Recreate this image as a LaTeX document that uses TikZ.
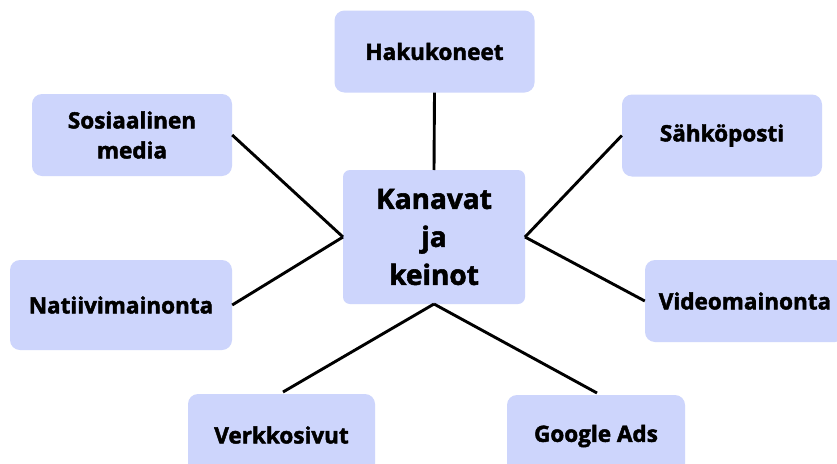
\documentclass[tikz,border=0pt]{standalone}
\usepackage{fontspec}
\setmainfont{Open Sans}[BoldFont={Open Sans Bold}, BoldFeatures={FakeBold=2}]
\definecolor{boxfill}{RGB}{205,213,252}
\tikzset{
  card/.style={fill=boxfill, rounded corners=10pt, align=center,
    font=\bfseries\fontsize{22.5}{30}\selectfont, inner sep=0pt},
  hub/.style={card, rounded corners=7pt, font=\bfseries\fontsize{28}{38}\selectfont},
  link/.style={line width=2.9pt, black}
}
\begin{document}
\begin{tikzpicture}[x=1pt,y=-1pt]
  \clip (0,0) rectangle (837,463);
  \fill[white] (0,0) rectangle (837,463);

  % hub
  \node[hub, minimum width=182pt, minimum height=134pt] (hub) at (434,237) {Kanavat\\ja\\keinot};

  % channels
  \node[card, minimum width=200pt, minimum height=82pt] (haku) at (434.5,51.5) {Hakukoneet};
  \node[card, minimum width=200pt, minimum height=82pt] (some) at (132,135) {Sosiaalinen\\media};
  \node[card, minimum width=200pt, minimum height=82pt] (sahko) at (722,135.5) {Sähköposti};
  \node[card, minimum width=222pt, minimum height=90pt] (natiivi) at (121,305) {Natiivimainonta};
  \node[card, minimum width=200pt, minimum height=82pt] (video) at (745,301) {Videomainonta};
  \node[card, minimum width=187pt, minimum height=82pt] (verkko) at (281.5,435) {Verkkosivut};
  \node[card, minimum width=178pt, minimum height=82pt] (google) at (596,436) {Google Ads};

  % connector end points on the hub
  \coordinate (hubL) at (343,237);
  \coordinate (hubR) at (525,237);
  \coordinate (hubB) at (434,304);
  \coordinate (hubT) at (434,170);
  \coordinate (verkkoT) at (283,392);
  \coordinate (googleT) at (597,393);

  \draw[link] (haku.south) -- (hubT);
  \draw[link] (some.east) -- (hubL);
  \draw[link] (natiivi.east) -- (hubL);
  \draw[link] (sahko.west) -- (hubR);
  \draw[link] (video.west) -- (hubR);
  \draw[link] (hubB) -- (verkkoT);
  \draw[link] (hubB) -- (googleT);
\end{tikzpicture}
\end{document}
